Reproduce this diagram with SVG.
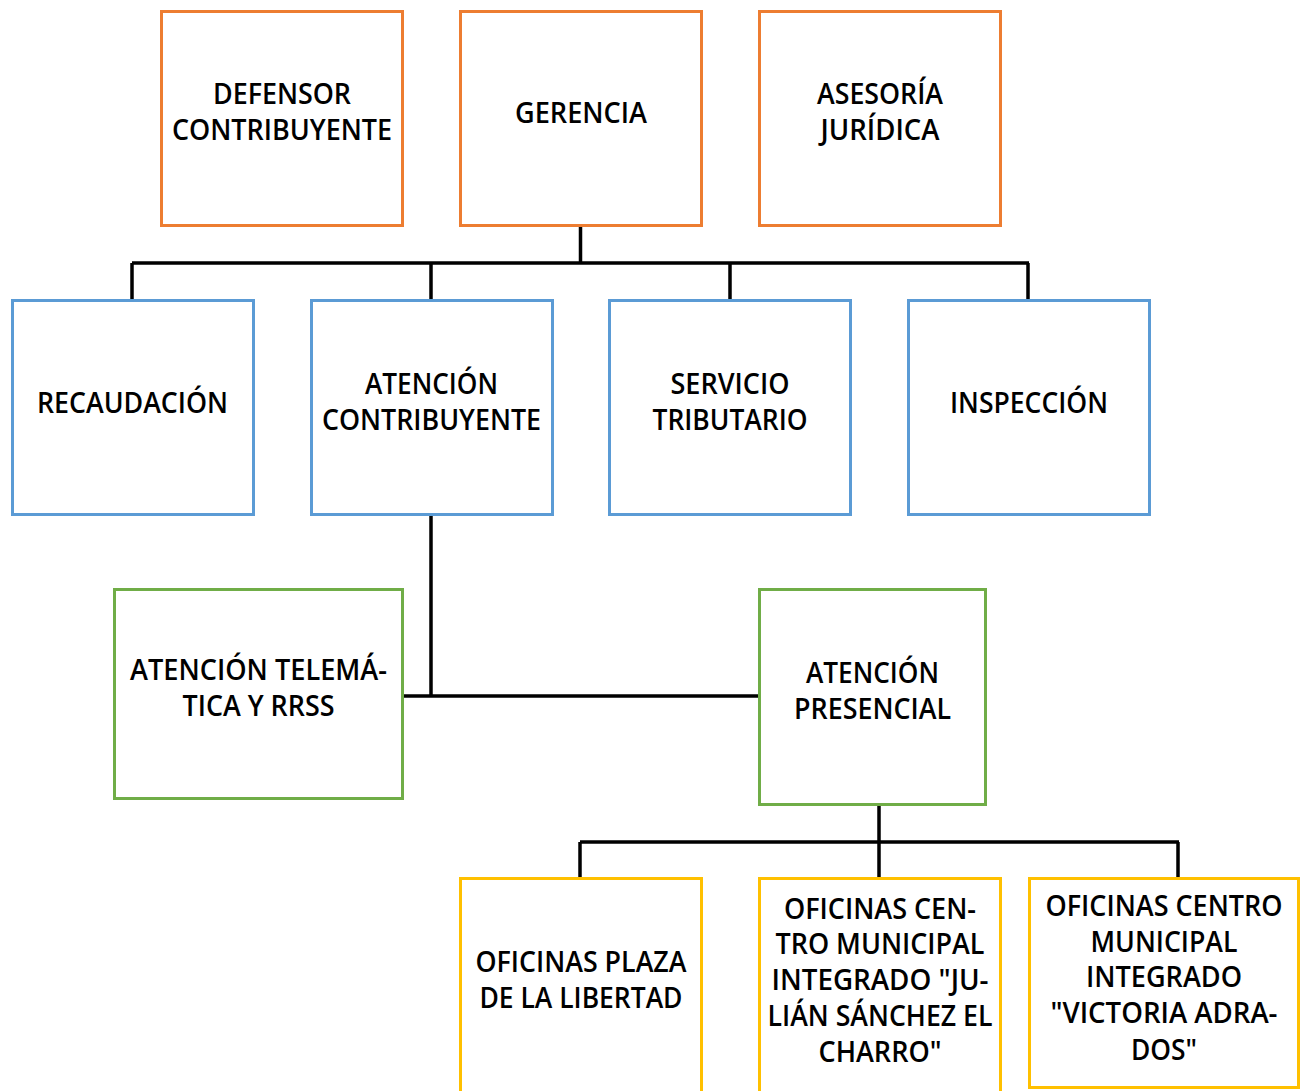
<svg xmlns="http://www.w3.org/2000/svg" width="1308" height="1091" viewBox="0 0 1308 1091">
<style>
rect{fill:#fff;stroke-width:3}
.o{stroke:#ED7D31}.b{stroke:#5B9BD5}.g{stroke:#70AD47}.y{stroke:#FFC000}
text{font-family:"Open Sans","Liberation Sans",sans-serif;font-size:28px;font-weight:600;fill:#000;text-anchor:middle}
#connectors path{fill:none;stroke:#000;stroke-width:3.5}
</style>
<rect width="1308" height="1091" fill="#fff" stroke="none"/>
<g id="connectors">
<path d="M580.5 227V263M132 263H1029M132 263V299M431 263V299M730 263V299M1028 263V299"/>
<path d="M431 516V696M403 696H758"/>
<path d="M879 805V842M580 842H1179M580 842V877M879 842V877M1178 842V877"/>
</g>
<g id="defensor"><rect class="o" x="161.5" y="11.5" width="241" height="214"/>
<text x="282" y="104" textLength="138" lengthAdjust="spacingAndGlyphs">DEFENSOR</text>
<text x="282" y="140" textLength="220" lengthAdjust="spacingAndGlyphs">CONTRIBUYENTE</text></g>
<g id="gerencia"><rect class="o" x="460.5" y="11.5" width="241" height="214"/>
<text x="581" y="122.5" textLength="132" lengthAdjust="spacingAndGlyphs">GERENCIA</text></g>
<g id="asesoria"><rect class="o" x="759.5" y="11.5" width="241" height="214"/>
<text x="880" y="104" textLength="126" lengthAdjust="spacingAndGlyphs">ASESORÍA</text>
<text x="880" y="140" textLength="119" lengthAdjust="spacingAndGlyphs">JURÍDICA</text></g>
<g id="recaudacion"><rect class="b" x="12.5" y="300.5" width="241" height="214"/>
<text x="132.5" y="412.5" textLength="191" lengthAdjust="spacingAndGlyphs">RECAUDACIÓN</text></g>
<g id="atencion-contribuyente"><rect class="b" x="311.5" y="300.5" width="241" height="214"/>
<text x="431.5" y="394" textLength="133" lengthAdjust="spacingAndGlyphs">ATENCIÓN</text>
<text x="431.5" y="430" textLength="219" lengthAdjust="spacingAndGlyphs">CONTRIBUYENTE</text></g>
<g id="servicio-tributario"><rect class="b" x="609.5" y="300.5" width="241" height="214"/>
<text x="730" y="394" textLength="119" lengthAdjust="spacingAndGlyphs">SERVICIO</text>
<text x="730" y="430" textLength="155" lengthAdjust="spacingAndGlyphs">TRIBUTARIO</text></g>
<g id="inspeccion"><rect class="b" x="908.5" y="300.5" width="241" height="214"/>
<text x="1029" y="412.5" textLength="158" lengthAdjust="spacingAndGlyphs">INSPECCIÓN</text></g>
<g id="atencion-telematica"><rect class="g" x="114.5" y="589.5" width="288" height="209"/>
<text x="258.5" y="680" textLength="257" lengthAdjust="spacingAndGlyphs">ATENCIÓN TELEMÁ-</text>
<text x="258.5" y="716" textLength="152" lengthAdjust="spacingAndGlyphs">TICA Y RRSS</text></g>
<g id="atencion-presencial"><rect class="g" x="759.5" y="589.5" width="226" height="215"/>
<text x="872.5" y="683" textLength="133" lengthAdjust="spacingAndGlyphs">ATENCIÓN</text>
<text x="872.5" y="719" textLength="157" lengthAdjust="spacingAndGlyphs">PRESENCIAL</text></g>
<g id="oficinas-plaza"><rect class="y" x="460.5" y="878.5" width="241" height="216"/>
<text x="581" y="972" textLength="211" lengthAdjust="spacingAndGlyphs">OFICINAS PLAZA</text>
<text x="581" y="1008" textLength="203" lengthAdjust="spacingAndGlyphs">DE LA LIBERTAD</text></g>
<g id="oficinas-charro"><rect class="y" x="759.5" y="878.5" width="241" height="216"/>
<text x="880" y="919" textLength="192" lengthAdjust="spacingAndGlyphs">OFICINAS CEN-</text>
<text x="880" y="954" textLength="209" lengthAdjust="spacingAndGlyphs">TRO MUNICIPAL</text>
<text x="880" y="990" textLength="217" lengthAdjust="spacingAndGlyphs">INTEGRADO "JU-</text>
<text x="880" y="1026" textLength="225" lengthAdjust="spacingAndGlyphs">LIÁN SÁNCHEZ EL</text>
<text x="880" y="1062" textLength="123" lengthAdjust="spacingAndGlyphs">CHARRO"</text></g>
<g id="oficinas-victoria"><rect class="y" x="1029.5" y="878.5" width="269" height="209"/>
<text x="1164" y="916" textLength="237" lengthAdjust="spacingAndGlyphs">OFICINAS CENTRO</text>
<text x="1164" y="952" textLength="147" lengthAdjust="spacingAndGlyphs">MUNICIPAL</text>
<text x="1164" y="987" textLength="156" lengthAdjust="spacingAndGlyphs">INTEGRADO</text>
<text x="1164" y="1023" textLength="227" lengthAdjust="spacingAndGlyphs">"VICTORIA ADRA-</text>
<text x="1164" y="1060" textLength="66" lengthAdjust="spacingAndGlyphs">DOS"</text></g>
</svg>
